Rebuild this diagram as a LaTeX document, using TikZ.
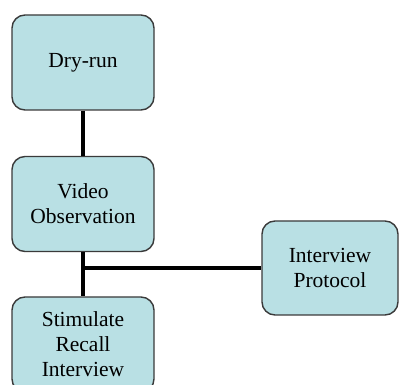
\documentclass[tikz,border=0pt]{standalone}
\usepackage{fontspec}
\setmainfont{Liberation Serif}
\definecolor{boxfill}{HTML}{B9E0E4}
\definecolor{boxline}{HTML}{3A3A3A}
\begin{document}
\begin{tikzpicture}[x=1pt,y=1pt,
	every node/.style={font=\fontsize{21.5}{25}\selectfont},
	stagebox/.style={draw=boxline, line width=1.4pt, fill=boxfill, rounded corners=13pt,
		minimum width=142pt, minimum height=95pt, align=center, inner sep=0pt},
	link/.style={line width=4pt}]
	
	% frame of the picture
	\clip (0,0) rectangle (399,385);
	\useasboundingbox (0,0) rectangle (399,385);
	
	% stages
	\node[stagebox] (dryrun) at (83,322.5) {Dry-run};
	\node[stagebox] (video) at (83,181) {Video\\Observation};
	\node[stagebox] (recall) at (83,40.5) {Stimulate\\Recall\\Interview};
	\node[stagebox, minimum width=136pt, minimum height=94pt] (protocol) at (330,117) {Interview\\Protocol};
	
	% junction below the video box
	\coordinate (branch) at (video.south |- protocol.west);
	
	% links
	\draw[link] (dryrun) -- (video);
	\draw[link] (video) -- (recall);
	\draw[link] ([xshift=-2pt]branch) -- (protocol);
	
\end{tikzpicture}
\end{document}
